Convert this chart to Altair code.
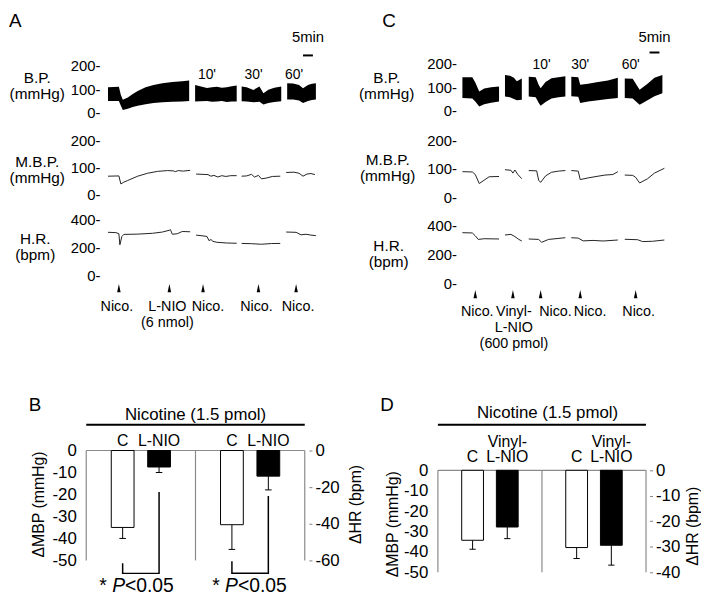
import altair as alt
import pandas as pd

FONT = "Liberation Sans"

# ===================== values =====================
# ---- Panel A (x = minutes along the record) ----
A_BP_SEG = [1] * 13 + [2] * 9 + [3] * 8 + [4] * 7
A_BP_T = [2.5, 8, 9, 10, 12.5, 15, 17.5, 21.5, 25.5, 30, 35, 40, 43.5,
          46.5, 49, 52.5, 55, 57.5, 60, 62.5, 65, 67.5,
          70, 72.5, 76, 79, 81, 83.5, 86.5, 90,
          93, 96, 99, 101, 103.5, 105.5, 107.5]
A_BP_LO = [50, 50, 30, 12, 18, 25, 30, 37, 42, 45, 47, 48, 50,
           48, 49, 50, 47, 48, 50, 46, 48, 48,
           49, 48, 45, 47, 35, 42, 46, 49,
           56, 56, 52, 42, 50, 54, 56]
A_BP_HI = [108, 110, 75, 55, 65, 80, 92, 108, 118, 125, 130, 133, 137,
           118, 112, 105, 108, 110, 106, 108, 112, 115,
           111, 108, 97, 111, 83, 98, 106, 111,
           125, 124, 118, 104, 118, 123, 125]

A_MBP_SEG = [1] * 14 + [2] * 10 + [3] * 9 + [4] * 7
A_MBP_T = [2.5, 8, 9, 10.5, 12.5, 17.5, 22.5, 27.5, 32.5, 35.5, 36.5, 38, 40.5, 44,
           47, 50, 53, 54.5, 56, 58, 60, 62, 64.5, 67.5,
           70, 72.5, 75, 76.5, 78.5, 80, 82.5, 85.5, 89.5,
           92.5, 96.5, 99, 101, 103, 105, 107]
A_MBP_V = [67, 68, 38, 45, 51, 67, 78, 85, 88, 87, 84, 88, 86, 89,
           75, 74, 73, 67, 70, 64, 69, 66, 69, 69,
           67, 68, 74, 64, 70, 57, 60, 66, 67,
           81, 82, 78, 67, 75, 77, 73]

A_HR_SEG = [1] * 15 + [2] * 9 + [3] * 5 + [4] * 6
A_HR_T = [2.5, 6.5, 8, 8.5, 9.5, 10.5, 17.5, 25, 30, 33.5, 34, 35, 37.5, 40, 44,
          47, 50, 52.5, 53.5, 54.5, 55.5, 57.5, 62.5, 67.5,
          70, 75, 80, 85, 89.5,
          92.5, 97.5, 100, 102.5, 105, 107.5]
A_HR_V = [310, 308, 300, 220, 280, 295, 297, 303, 312, 325, 330, 296, 300, 316, 314,
          290, 285, 280, 250, 258, 245, 238, 233, 231,
          230, 228, 224, 229, 230,
          312, 310, 292, 296, 290, 286]

A_EV_T = [8, 33.5, 50.5, 78.5, 97.5]
A_EV_LABEL_T = [7, 32.5, 53, 77.5, 98.5]
A_EV_LABEL = ["Nico.", "L-NIO\n(6 nmol)", "Nico.", "Nico.", "Nico."]
A_INT_T = [52.5, 76, 96.5]
A_INT_LEVEL = 158
A_SCALE_T = [101, 106]
A_SCALE_LEVEL = 242
A_SCALE_TEXT_LEVEL = 321

# ---- Panel C ----
C_BP_SEG = [1] * 7 + [2] * 5 + [3] * 8 + [4] * 7 + [5] * 6
C_BP_T = [1.5, 6.5, 8, 10, 12.5, 16, 20,
          23, 25.5, 27.5, 29, 31.5,
          35, 38.5, 40, 41, 43.5, 46.5, 50, 53.5,
          56.5, 60, 61, 65, 70, 75, 80,
          83.5, 87.5, 91, 95, 98.5, 102.5]
C_BP_LO = [54, 52, 40, 19, 28, 35, 40,
           61, 58, 50, 45, 47,
           61, 58, 35, 22, 38, 52, 58, 61,
           62, 60, 33, 40, 45, 50, 54,
           54, 52, 26, 45, 62, 75]
C_BP_HI = [142, 142, 120, 82, 95, 100, 103,
           151, 148, 140, 125, 137,
           144, 142, 110, 96, 122, 138, 142, 146,
           144, 142, 110, 115, 122, 128, 140,
           137, 135, 89, 115, 140, 151]

C_MBP_SEG = [1] * 7 + [2] * 6 + [3] * 8 + [4] * 8 + [5] * 7
C_MBP_T = [1.5, 6.5, 8, 10, 12.5, 15, 20,
           23, 26, 27, 28, 29.5, 31.5,
           35, 39, 40, 41, 43.5, 46.5, 50, 53.5,
           56.5, 60, 61, 65, 70, 73.5, 77.5, 80,
           83.5, 87.5, 89, 91, 95, 98.5, 103.5]
C_MBP_V = [90, 89, 80, 48, 60, 72, 73,
           97, 95, 85, 96, 80, 65,
           94, 93, 60, 52, 75, 88, 92, 94,
           94, 92, 62, 68, 74, 78, 80, 90,
           78, 77, 70, 50, 65, 85, 102]

C_HR_SEG = [1] * 6 + [2] * 5 + [3] * 5 + [4] * 6 + [5] * 5
C_HR_T = [1.5, 6.5, 8, 9.5, 12.5, 20,
          23, 26, 28, 30, 31.5,
          35, 40, 41.5, 45, 53.5,
          56.5, 60, 62.5, 67.5, 72.5, 80,
          83.5, 90, 92.5, 97.5, 103.5]
C_HR_V = [352, 350, 330, 305, 310, 308,
          336, 340, 325, 305, 294,
          308, 305, 285, 305, 317,
          317, 314, 295, 298, 294, 301,
          306, 303, 290, 292, 301]

C_EV_T = [8, 27, 41, 61, 89]
C_EV_LABEL_T = [9, 27.5, 48.5, 66, 90.5]
C_EV_LABEL = ["Nico.", "Vinyl-\nL-NIO\n(600 pmol)", "Nico.", "Nico.", "Nico."]
C_INT_T = [41.5, 61, 86.5]
C_INT_LEVEL = 192
C_SCALE_T = [96, 101]
C_SCALE_LEVEL = 246
C_SCALE_TEXT_LEVEL = 312

INT_LABELS = ["10'", "30'", "60'"]
SCALE_LABEL = "5min"

# ---- Panel B bars ----
B_POS = [1, 2, 4, 5]
B_SIDE = ["MBP", "MBP", "HR", "HR"]
B_LABEL_TOP = ["", "", "", ""]
B_LABEL = ["C", "L-NIO", "C", "L-NIO"]
B_MEAN = [-35, -7.5, -40.5, -14]
B_ERR = [5, 2.5, 13.5, 7.5]
B_FILL = ["white", "black", "white", "black"]
B_BRACKET_MBP_X = [1, 1, 2, 2]
B_BRACKET_MBP_Y = [-51.3, -55.9, -55.9, -18.9]
B_BRACKET_HR_X = [4, 4, 5, 5]
B_BRACKET_HR_Y = [-60.5, -67, -67, -24.9]
B_P_X = [1.38, 4.48]

# ---- Panel D bars ----
D_POS = [1, 2, 4, 5]
D_SIDE = ["MBP", "MBP", "HR", "HR"]
D_LABEL_TOP = ["", "Vinyl-", "", "Vinyl-"]
D_LABEL = ["C", "L-NIO", "C", "L-NIO"]
D_MEAN = [-34.3, -27.8, -30.3, -29.4]
D_ERR = [4.4, 5.7, 4.3, 7.8]
D_FILL = ["white", "black", "white", "black"]

HEADER = "Nicotine (1.5 pmol)"
P_PARTS = ["*", "P", "<0.05"]
FRAME_X = [0, 0, 3, 6]
FRAME_X2 = [6, 0, 3, 6]
FRAME_Y = [0, 0, 0, 0]
FRAME_Y2 = [0, -50, -50, -50]

# ===================== layout (page pixels) =====================
ROWS = [20, 124, 205, 400, 597]
COL_ORIGIN = [105, 465]
PANEL_W = 225
PX_PER_MIN = 2.0
LETTER_FS = 19


def lin_domain(top_px, bot_px, v1, p1, v2, p2):
    s = (p2 - p1) / (v2 - v1)
    return [v1 + (bot_px - p1) / s, v1 + (top_px - p1) / s]


def trace_x(field):
    return alt.X(field, type="quantitative",
                 scale=alt.Scale(domain=[0, PANEL_W / PX_PER_MIN], nice=False, zero=False),
                 axis=None)


def yq(field, scale, axis):
    return alt.Y(field, type="quantitative", scale=scale, axis=axis)


def tick_axis(values, title, cx, top, origin, row_top):
    return alt.Axis(values=values, labelExpr="datum.label + '-'", ticks=False, tickSize=0,
                    domain=False, grid=False, labelFontSize=15, labelColor="black",
                    labelPadding=3, labelOverlap=False,
                    title=title, titleAngle=0, titleAlign="center", titleBaseline="top",
                    titleX=cx - origin, titleY=top - row_top, titleFontSize=15.5,
                    titleFontWeight="normal", titleColor="black", titleLineHeight=16)


def letter_title(letter, x_px, top_px, origin, row_top):
    return alt.TitleParams(letter, anchor="start", frame="group", orient="top",
                           baseline="top", offset=row_top - top_px - LETTER_FS,
                           dx=x_px - origin, fontSize=LETTER_FS, fontWeight="normal",
                           color="black", font=FONT)


def trace_column(origin, cal, titles, bp, mbp, hr, int_t, int_level, sc_t, sc_level,
                 sc_text_level, ev_t, evl_t, evl, ev_px, letter, letter_x):
    # blood pressure band
    bp_df = pd.DataFrame({"seg": bp[0], "t": bp[1], "lo": bp[2], "hi": bp[3]})
    ys = alt.Scale(domain=lin_domain(ROWS[0], ROWS[1], *cal["bp"]), nice=False, zero=False)
    ax = tick_axis([0, 100, 200], ["B.P.", "(mmHg)"], titles[0][0], titles[0][1], origin, ROWS[0])
    int_df = pd.DataFrame({"t": int_t, "v": [int_level] * len(int_t), "lab": INT_LABELS})
    sc_df = pd.DataFrame({"t0": [sc_t[0]], "t1": [sc_t[1]], "v": [sc_level],
                          "tc": [(sc_t[0] + sc_t[1]) / 2], "tv": [sc_text_level],
                          "lab": [SCALE_LABEL]})
    band = alt.Chart(bp_df).mark_area(color="black", opacity=1).encode(
        x=trace_x("t"), y=yq("lo", ys, ax), y2=alt.Y2("hi"), detail="seg:N")
    ints = alt.Chart(int_df).mark_text(fontSize=14, color="black").encode(
        x=trace_x("t"), y=yq("v", ys, ax), text="lab:N")
    sbar = alt.Chart(sc_df).mark_rule(color="black", strokeWidth=2).encode(
        x=trace_x("t0"), x2=alt.X2("t1"), y=yq("v", ys, ax))
    stext = alt.Chart(sc_df).mark_text(fontSize=15, color="black").encode(
        x=trace_x("tc"), y=yq("tv", ys, ax), text="lab:N")
    bp_chart = alt.layer(band, ints, sbar, stext).properties(
        width=PANEL_W, height=ROWS[1] - ROWS[0],
        title=letter_title(letter, letter_x, 8, origin, ROWS[0]))

    # mean blood pressure
    mbp_df = pd.DataFrame({"seg": mbp[0], "t": mbp[1], "v": mbp[2]})
    ys2 = alt.Scale(domain=lin_domain(ROWS[1], ROWS[2], *cal["mbp"]), nice=False, zero=False)
    ax2 = tick_axis([0, 100, 200], ["M.B.P.", "(mmHg)"], titles[1][0], titles[1][1], origin, ROWS[1])
    mbp_chart = alt.Chart(mbp_df).mark_line(color="#222222", strokeWidth=1).encode(
        x=trace_x("t"), y=yq("v", ys2, ax2), detail="seg:N"
    ).properties(width=PANEL_W, height=ROWS[2] - ROWS[1])

    # heart rate + injection markers
    hr_df = pd.DataFrame({"seg": hr[0], "t": hr[1], "v": hr[2]})
    ys3 = alt.Scale(domain=lin_domain(ROWS[2], ROWS[3], *cal["hr"]), nice=False, zero=False)
    ax3 = tick_axis([0, 200, 400], ["H.R.", "(bpm)"], titles[2][0], titles[2][1], origin, ROWS[2])
    hr_line = alt.Chart(hr_df).mark_line(color="#222222", strokeWidth=1).encode(
        x=trace_x("t"), y=yq("v", ys3, ax3), detail="seg:N")
    arrows = alt.Chart(pd.DataFrame({"t": ev_t})).mark_point(
        shape="M0,-1L0.42,1L-0.42,1Z", filled=True, size=72, color="black", opacity=1
    ).encode(x=trace_x("t"), y=alt.value(ev_px[0] - ROWS[2]))
    ev_text = alt.Chart(pd.DataFrame({"t": evl_t, "lab": evl})).mark_text(
        fontSize=14.5, baseline="top", lineBreak="\n", lineHeight=16, color="black"
    ).encode(x=trace_x("t"), y=alt.value(ev_px[1] - ROWS[2]), text="lab:N")
    hr_chart = alt.layer(hr_line, arrows, ev_text).properties(
        width=PANEL_W, height=ROWS[3] - ROWS[2])
    return bp_chart, mbp_chart, hr_chart


def bar_panel(pos, side, labels_top, labels, means, errs, fills, frame_l, frame_r, origin,
              zero_px, mbp_px, hr_min, hr_px, hr_ticks, bar_w, header_x, hdr_text_y,
              hdr_line_y, lab_bottom, lt, rt, letter, letter_xy, brackets=None, p_x=None):
    unit = (frame_r - frame_l) / 6.0
    xs = alt.Scale(domain=[(origin - frame_l) / unit, (origin + PANEL_W - frame_l) / unit],
                   nice=False, zero=False)

    def bx(f):
        return alt.X(f, type="quantitative", scale=xs, axis=None)

    ys_m = alt.Scale(domain=lin_domain(ROWS[3], ROWS[4], 0, zero_px, -50, mbp_px), nice=False, zero=False)
    ys_h = alt.Scale(domain=lin_domain(ROWS[3], ROWS[4], 0, zero_px, hr_min, hr_px), nice=False, zero=False)
    ax_m = alt.Axis(values=[0, -10, -20, -30, -40, -50], offset=origin - frame_l, domain=False,
                    ticks=False, tickSize=0, grid=False, labelFontSize=17, labelColor="black",
                    labelExpr="'' + datum.value",
                    labelPadding=4, labelOverlap=False, title="ΔMBP (mmHg)", titleAngle=270,
                    titleAlign="center", titleBaseline="middle", titleX=lt[0] - frame_l,
                    titleY=lt[1] - ROWS[3], titleFontSize=16, titleFontWeight="normal",
                    titleColor="black")
    ax_h = alt.Axis(orient="right", values=hr_ticks, offset=(frame_r - origin) - PANEL_W,
                    domain=False, ticks=True, tickSize=3, labelExpr="'' + datum.value",
                    tickColor="#808080", grid=False, labelFontSize=17, labelColor="black",
                    labelPadding=3, labelOverlap=False, title="ΔHR (bpm)", titleAngle=270,
                    titleAlign="center", titleBaseline="middle", titleX=rt[0] - frame_r,
                    titleY=rt[1] - ROWS[3], titleFontSize=16, titleFontWeight="normal",
                    titleColor="black")

    df = pd.DataFrame({"pos": pos, "side": side, "top": labels_top, "label": labels,
                       "mean": means, "err": errs, "fill": fills})

    def side_layers(s, ys, ax):
        base = alt.Chart(df).transform_filter(alt.datum.side == s).transform_calculate(
            zero="0", lo="datum.mean - datum.err", xa="datum.pos - 0.09", xb="datum.pos + 0.09")
        bars = base.mark_bar(size=bar_w, stroke="black", strokeWidth=1).encode(
            x=bx("pos"), y=yq("mean", ys, ax), y2=alt.Y2("zero"),
            color=alt.Color("fill:N", scale=None))
        err = base.mark_rule(color="black", strokeWidth=1).encode(
            x=bx("pos"), y=yq("mean", ys, ax), y2=alt.Y2("lo"))
        cap = base.mark_rule(color="black", strokeWidth=1).encode(
            x=bx("xa"), x2=alt.X2("xb"), y=yq("lo", ys, ax))
        return [err, cap, bars]

    m_layers = []
    frame = pd.DataFrame({"x": FRAME_X, "x2": FRAME_X2, "y": FRAME_Y, "y2": FRAME_Y2})
    m_layers.append(alt.Chart(frame).mark_rule(color="#8a8a8a", strokeWidth=1.2).encode(
        x=bx("x"), x2=alt.X2("x2"), y=yq("y", ys_m, ax_m), y2=alt.Y2("y2")))
    m_layers += side_layers("MBP", ys_m, ax_m)
    for field, extra in [("label", 0), ("top", -16)]:
        m_layers.append(alt.Chart(df).transform_calculate(zero="0").mark_text(
            baseline="bottom", dy=lab_bottom - zero_px + extra, fontSize=16, color="black"
        ).encode(x=bx("pos"), y=yq("zero", ys_m, ax_m), text=f"{field}:N"))
    hdr = pd.DataFrame({"x": [header_x], "x0": [0], "x1": [6], "zero": [0], "text": [HEADER]})
    m_layers.append(alt.Chart(hdr).mark_text(
        baseline="middle", dy=hdr_text_y - zero_px, fontSize=17, color="black"
    ).encode(x=bx("x"), y=yq("zero", ys_m, ax_m), text="text:N"))
    m_layers.append(alt.Chart(hdr).mark_rule(
        color="black", strokeWidth=2, yOffset=hdr_line_y - zero_px
    ).encode(x=bx("x0"), x2=alt.X2("x1"), y=yq("zero", ys_m, ax_m)))

    h_layers = side_layers("HR", ys_h, ax_h)

    if brackets is not None:
        for (bxs, bys, ys, ax, px, target) in [
            (brackets[0][0], brackets[0][1], ys_m, ax_m, p_x[0], m_layers),
            (brackets[1][0], brackets[1][1], ys_h, ax_h, p_x[1], h_layers),
        ]:
            bdf = pd.DataFrame({"x": bxs, "y": bys, "k": list(range(len(bxs)))})
            target.append(alt.Chart(bdf).mark_line(color="black", strokeWidth=1.5).encode(
                x=bx("x"), y=yq("y", ys, ax), order="k:Q"))
            pdf = pd.DataFrame({"x": [px], "y": [min(bys)]})
            offs = [-37.6, -24.6, -11.6]
            styles = ["normal", "italic", "normal"]
            for part, off, st in zip(P_PARTS, offs, styles):
                target.append(alt.Chart(pdf).mark_text(
                    text=part, align="left", baseline="middle", dx=off, dy=13,
                    fontSize=19.5, fontStyle=st, color="black"
                ).encode(x=bx("x"), y=yq("y", ys, ax)))

    chart = alt.layer(alt.layer(*m_layers), alt.layer(*h_layers)).resolve_scale(
        y="independent").properties(
        width=PANEL_W, height=ROWS[4] - ROWS[3],
        title=letter_title(letter, letter_xy[0], letter_xy[1], origin, ROWS[3]))
    return chart


A = trace_column(
    COL_ORIGIN[0],
    {"bp": (0, 110, 200, 62), "mbp": (0, 192, 200, 138), "hr": (0, 274, 400, 218)},
    [(38, 67), (38, 152), (36, 230)],
    (A_BP_SEG, A_BP_T, A_BP_LO, A_BP_HI), (A_MBP_SEG, A_MBP_T, A_MBP_V),
    (A_HR_SEG, A_HR_T, A_HR_V), A_INT_T, A_INT_LEVEL, A_SCALE_T, A_SCALE_LEVEL,
    A_SCALE_TEXT_LEVEL, A_EV_T, A_EV_LABEL_T, A_EV_LABEL, (287, 299), "A", 10)

C = trace_column(
    COL_ORIGIN[1],
    {"bp": (0, 108, 200, 60), "mbp": (0, 195, 200, 138), "hr": (0, 282, 400, 224)},
    [(391, 67), (392, 150), (393, 237)],
    (C_BP_SEG, C_BP_T, C_BP_LO, C_BP_HI), (C_MBP_SEG, C_MBP_T, C_MBP_V),
    (C_HR_SEG, C_HR_T, C_HR_V), C_INT_T, C_INT_LEVEL, C_SCALE_T, C_SCALE_LEVEL,
    C_SCALE_TEXT_LEVEL, C_EV_T, C_EV_LABEL_T, C_EV_LABEL, (293, 304), "C", 387)

B = bar_panel(B_POS, B_SIDE, B_LABEL_TOP, B_LABEL, B_MEAN, B_ERR, B_FILL, 82, 313,
              COL_ORIGIN[0], 451, 562, -60, 562, [0, -20, -40, -60], 23, 3.0, 415, 425, 449,
              (40, 505), (360, 505), "B", (30, 396),
              brackets=[(B_BRACKET_MBP_X, B_BRACKET_MBP_Y), (B_BRACKET_HR_X, B_BRACKET_HR_Y)],
              p_x=B_P_X)

D = bar_panel(D_POS, D_SIDE, D_LABEL_TOP, D_LABEL, D_MEAN, D_ERR, D_FILL, 437, 657,
              COL_ORIGIN[1], 471, 574, -40, 574, [0, -10, -20, -30, -40], 22, 3.16, 413,
              425, 466, (397, 525), (700, 527), "D", (385, 396))

chart = alt.concat(
    A[0], C[0], A[1], C[1], A[2], C[2], B, D,
    columns=2, spacing={"row": 0, "column": COL_ORIGIN[1] - COL_ORIGIN[0] - PANEL_W},
    bounds="flush", align="each",
).properties(padding=0).configure(font=FONT).configure_view(stroke="transparent")

chart.save("out.html", embed_options={"renderer": "svg", "actions": False})
